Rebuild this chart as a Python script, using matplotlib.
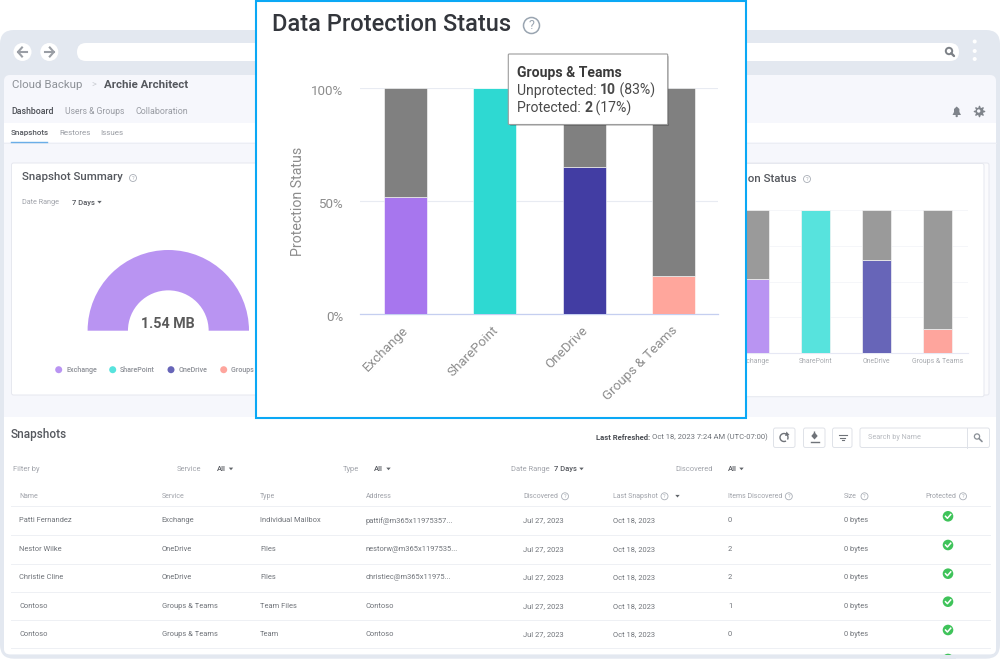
import matplotlib
matplotlib.use('Agg')
from matplotlib import pyplot as plt
from matplotlib.patches import FancyBboxPatch, Rectangle, Circle, Polygon, Arc
from matplotlib.transforms import ScaledTranslation

plt.rcParams['font.family'] = ['Roboto', 'DejaVu Sans']

W, H = 1000, 659

# Dados
services = ['Exchange', 'SharePoint', 'OneDrive', 'Groups & Teams']
protected = [52, 100, 65, 17]
unprotected = [48, 0, 35, 83]
yticks = [0, 50, 100]
side_grid = [25, 50, 75, 100]

donut_values = [1.54, 1.54]

legend_names = ['Exchange', 'SharePoint', 'OneDrive', 'Groups & Teams']

main_colors = ['#a776ee', '#2ed9d2', '#423da3', '#ffa69c']
side_colors = ['#b994f2', '#57e3dd', '#6765b8', '#fea59d']

headers = ['Name', 'Service', 'Type', 'Address', 'Discovered', 'Last Snapshot',
           'Items Discovered', 'Size', 'Protected']
col_names = ['Patti Fernandez', 'Nestor Wilke', 'Christie Cline', 'Contoso', 'Contoso']
col_service = ['Exchange', 'OneDrive', 'OneDrive', 'Groups & Teams', 'Groups & Teams']
col_type = ['Individual Mailbox', 'Files', 'Files', 'Team Files', 'Team']
col_address = ['pattif@m365x11975357...', 'nestorw@m365x1197535...',
               'christiec@m365x11975...', 'Contoso', 'Contoso']
col_discovered = ['Jul 27, 2023'] * 5
col_snapshot = ['Oct 18, 2023'] * 5
col_items = ['0', '2', '2', '1', '0']
col_size = ['0 bytes'] * 5

fig = plt.figure(figsize=(W / 100, H / 100), dpi=100, facecolor='white')


def px_axes(z):
    a = fig.add_axes([0, 0, 1, 1], zorder=z)
    a.set_xlim(0, W)
    a.set_ylim(H, 0)
    a.axis('off')
    a.patch.set_alpha(0)
    return a


def rect_axes(x0, y0, x1, y1, z):
    # axes posicionado em pixels da imagem
    return fig.add_axes([x0 / W, 1 - y1 / H, (x1 - x0) / W, (y1 - y0) / H], zorder=z)


def txt(a, x, y, s, size, color='#6f7379', **kw):
    kw.setdefault('va', 'center')
    return a.text(x, y + 1, s, fontsize=size * 0.72, color=color, **kw)


def box(a, x0, y0, x1, y1, r=0, fc='white', ec='none', lw=0.0, z=1):
    if r == 0:
        p = Rectangle((x0, y0), x1 - x0, y1 - y0, fc=fc, ec=ec, lw=lw, zorder=z)
    else:
        p = FancyBboxPatch((x0, y0), x1 - x0, y1 - y0,
                           boxstyle='round,pad=0,rounding_size=%s' % r,
                           fc=fc, ec=ec, lw=lw, zorder=z)
    a.add_patch(p)
    return p


def help_icon(a, x, y, r=3.5, color='#a9aeb6', fs=5.5, lw=0.6):
    a.add_patch(Circle((x, y), r, fc='white', ec=color, lw=lw, zorder=5))
    txt(a, x, y - 0.8, '?', fs, color, ha='center', zorder=6)


def caret(a, x, y, s=2.2, color='#5f6368'):
    a.add_patch(Polygon([(x - s, y - s / 2), (x + s, y - s / 2), (x, y + s / 2 + 0.4)],
                        fc=color, ec='none', zorder=5))


def runs(a, x, y, parts, size, color, weight_color=None):
    # escreve pedaços em sequência (normal e negrito)
    r = fig.canvas.get_renderer()
    inv = a.transData.inverted()
    for s, w in parts:
        c = weight_color if (w == 'bold' and weight_color) else color
        t = txt(a, x, y, s, size, c, weight=w, zorder=8)
        bb = t.get_window_extent(r)
        x = inv.transform((bb.x1, bb.y0))[0]


def magnifier(a, x, y, r=3, color='#8a8f96', lw=1.2):
    a.add_patch(Circle((x - 1, y - 1), r, fc='none', ec=color, lw=lw, zorder=6))
    a.plot([x + 1.2, x + 4], [y + 1.2, y + 4], color=color, lw=lw + 0.3, zorder=6,
           solid_capstyle='round')


# ---- Fundo: janela do navegador
bg = px_axes(0)
box(bg, 0, 30, 1000, 658.7, r=14, fc='#e3e8f0')
box(bg, 4, 75, 996, 654.3, r=6, fc='#f6f7fc')
box(bg, 4, 123, 996, 142, fc='white')
bg.plot([4, 996], [142.5, 142.5], color='#eceef4', lw=0.7, zorder=2)

# barra de endereço
box(bg, 77, 43, 959, 61, r=9, fc='white')
for cx in (22.5, 49.3):
    bg.add_patch(Circle((cx, 52), 9, fc='white', ec='none', zorder=2))
for cx, d in ((22.5, -1), (49.3, 1)):
    bg.plot([cx - 4.5 * d, cx + 4.5 * d], [52, 52], color='#9a9ea5', lw=1.5, zorder=3)
    bg.plot([cx + 0.5 * d, cx + 4.5 * d, cx + 0.5 * d], [47.5, 52, 56.5], color='#9a9ea5', lw=1.5, zorder=3)
magnifier(bg, 950, 52, r=3.2, color='#7d8187', lw=1.4)
for yy in (41.5, 51, 59):
    bg.add_patch(Circle((974.7, yy), 2, fc='white', ec='none', zorder=3))

# navegação
txt(bg, 11.5, 84.5, 'Cloud Backup', 11.5, '#8d9197')
txt(bg, 91.5, 84.5, '>', 9, '#c9ccd2')
txt(bg, 104, 84.5, 'Archie Architect', 11.5, '#55585e', weight='bold')
txt(bg, 11.5, 110.5, 'Dashboard', 8.8, '#4c4f55', weight='medium')
txt(bg, 65, 110.5, 'Users & Groups', 8.7, '#999ca3')
txt(bg, 136, 110.5, 'Collaboration', 8.9, '#999ca3')
txt(bg, 11, 132, 'Snapshots', 8.0, '#55585e', weight='medium')
txt(bg, 59, 132, 'Restores', 8.0, '#999ca3')
txt(bg, 100, 132, 'Issues', 8.0, '#999ca3')
bg.plot([11, 47], [141.5, 141.5], color='#6aaee8', lw=1, zorder=3)

# sino e engrenagem
bg.add_patch(Polygon([(952.5, 115), (954, 112), (954, 109), (956.7, 106.5), (959.4, 109),
                      (959.4, 112), (961, 115)], fc='#7f848b', ec='none', zorder=3))
bg.add_patch(Circle((956.7, 116), 1.2, fc='#7f848b', ec='none', zorder=3))
bg.scatter([978.7], [111], marker=(8, 1, 0), s=55, color='#7f848b', zorder=3)
bg.add_patch(Circle((978.7, 111), 1.7, fc='#f6f7fc', ec='none', zorder=4))

# cartão do resumo
box(bg, 11.5, 163, 300, 395, r=2, fc='white', ec='#e6e8ef', lw=0.7, z=2)
txt(bg, 21.5, 176.5, 'Snapshot Summary', 11.5, '#55585e', weight='medium', zorder=3)
help_icon(bg, 133, 178)
txt(bg, 21.5, 201.5, 'Date Range', 7.3, '#a0a3aa', zorder=3)
txt(bg, 72, 201.5, '7 Days', 7.6, '#55585e', weight='medium', zorder=3)
caret(bg, 99.5, 202)

legend_x = [58.7, 112.7, 171, 223.7]
for lx, name, c in zip(legend_x, legend_names, side_colors):
    bg.add_patch(Circle((lx, 369.7), 3.5, fc=c, ec='none', zorder=3))
    txt(bg, lx + 7.5, 369.5, name, 7.2, '#8e9198', weight='medium', zorder=3)
txt(bg, 168.3, 323.5, '1.54 MB', 14.3, '#5a5a5a', ha='center', weight='bold', zorder=3)

# cartão lateral
box(bg, 700, 163, 989, 395, r=2, fc='#fbfbfd', ec='#e6e8ef', lw=0.7, z=2)
box(bg, 700, 163.5, 984, 396.7, r=2, fc='white', ec='#e6e8ef', lw=0.7, z=2)
txt(bg, 797, 177.5, 'Data Protection Status', 11.5, '#55585e', ha='right', weight='medium', zorder=3)
help_icon(bg, 807, 179)

# tabela
box(bg, 4, 417, 996, 654.3, r=6, fc='white', z=2)
box(bg, 4, 417, 996, 440, fc='white', z=2)
txt(bg, 11, 433.5, 'Snapshots', 11.7, '#55585e', weight='medium', zorder=3)
runs(bg, 596, 436.5, [('Last Refreshed: ', 'bold'), ('Oct 18, 2023 7:24 AM (UTC-07:00)', 'normal')],
     7.6, '#6f7379', weight_color='#4c4f55')

for x0, x1 in ((773.5, 795), (803.5, 825), (832.5, 852)):
    box(bg, x0, 428, x1, 447.5, r=2, fc='white', ec='#dfe2e8', lw=0.7, z=3)
bg.add_patch(Arc((784, 437.5), 8, 8, theta1=-300, theta2=30, color='#6f7379', lw=1, zorder=5))
bg.add_patch(Polygon([(786.5, 431.5), (789.5, 435), (785, 436)], fc='#6f7379', ec='none', zorder=5))
bg.add_patch(Polygon([(811.3, 436), (813.8, 433), (813.8, 431.5), (815.2, 431.5), (815.2, 433),
                      (817.7, 436), (814.5, 439.5)], fc='#6f7379', ec='none', zorder=5))
bg.plot([810.5, 818.5], [441.5, 441.5], color='#6f7379', lw=1, zorder=5)
for half, yy in ((4, 435), (2.7, 437.7), (1, 440.3)):
    bg.plot([842.5 - half, 842.5 + half], [yy, yy], color='#6f7379', lw=0.8, zorder=5)
box(bg, 860, 428, 989.5, 447.5, r=2, fc='white', ec='#dfe2e8', lw=0.7, z=3)
bg.plot([966.5, 966.5], [428, 447.5], color='#dfe2e8', lw=0.7, zorder=4)
txt(bg, 868, 436.5, 'Search by Name', 7.3, '#b6b9bf', zorder=5)
magnifier(bg, 978, 437.5, r=2.6, color='#8a8f96', lw=0.9)

fy = 468.2
txt(bg, 13, fy, 'Filter by', 7.5, '#a0a3aa', zorder=3)
txt(bg, 177, fy, 'Service', 7.5, '#a0a3aa', zorder=3)
txt(bg, 216.5, fy, 'All', 7.6, '#55585e', weight='medium', zorder=3)
caret(bg, 231, fy + 0.5)
txt(bg, 343, fy, 'Type', 7.5, '#a0a3aa', zorder=3)
txt(bg, 374, fy, 'All', 7.6, '#55585e', weight='medium', zorder=3)
caret(bg, 388.5, fy + 0.5)
txt(bg, 511, fy, 'Date Range', 7.5, '#a0a3aa', zorder=3)
txt(bg, 554, fy, '7 Days', 7.6, '#55585e', weight='medium', zorder=3)
caret(bg, 581.5, fy + 0.5)
txt(bg, 675, fy, 'Discovered', 7.5, '#a0a3aa', zorder=3)
txt(bg, 727.5, fy, 'All', 7.6, '#55585e', weight='medium', zorder=3)
caret(bg, 741.5, fy + 0.5)

col_x = [19, 161.5, 260, 366, 523.3, 612.7, 728, 844, 925.7]
help_x = [None, None, None, None, 565, 664.5, 788.8, 864.5, 963]
for cx, name, hx in zip(col_x, headers, help_x):
    txt(bg, cx, 495.3, name, 7.0, '#a0a3aa', zorder=3)
    if hx:
        help_icon(bg, hx, 496.3)
caret(bg, 677.5, 496)

row_y = [519.8, 548.2, 576.5, 605.2, 633.5]
columns = [col_names, col_service, col_type, col_address, col_discovered, col_snapshot, col_items, col_size]
for cx, vals in zip(col_x, columns):
    for yy, v in zip(row_y, vals):
        txt(bg, cx, yy, v, 7.5, '#6f7379', zorder=3)
for yy in (506.3, 534.5, 563.5, 591.5, 620, 648.3):
    bg.plot([11, 989.5], [yy, yy], color='#eef0f4', lw=0.7, zorder=3)

check_y = [516.3, 545, 573.7, 601.7, 630, 659]
for yy in check_y:
    bg.add_patch(Circle((948, yy), 5.3, fc='#3fc35a', ec='none', zorder=3))
    bg.plot([945.5, 947.4, 950.7], [yy, yy + 2, yy - 1.8], color='white', lw=1.1, zorder=4)
box(bg, 940, 655, 956, 658.7, fc='#e3e8f0', z=5)
box(bg, 940, 658.7, 956, 660, fc='white', z=5)

# Meia rosca
ax_donut = rect_axes(168.3 - 80.7, 330.7 - 80.7, 168.3 + 80.7, 330.7 + 80.7, 1)
ax_donut.pie(donut_values, colors=[side_colors[0], 'none'], startangle=0, radius=1,
             wedgeprops={'width': 0.5, 'linewidth': 0})
ax_donut.set_xlim(-1, 1)
ax_donut.set_ylim(-1, 1)
ax_donut.patch.set_alpha(0)

# Gráfico lateral (atrás do painel)
ax_side = rect_axes(724, 210, 968, 353.3, 1)
ax_side.patch.set_alpha(0)
ax_side.set_xlim(-0.5, 3.5)
ax_side.set_ylim(0, 100)
ax_side.bar(services, protected, 0.475, color=side_colors, edgecolor='#f4f4f4', linewidth=0.5, zorder=3)
ax_side.bar(services, unprotected, 0.475, bottom=protected, color='#9a9a9a', edgecolor='#f4f4f4', linewidth=0.5, zorder=3)
ax_side.set_yticks(side_grid)
ax_side.set_yticklabels([])
ax_side.tick_params(length=0)
ax_side.tick_params(axis='x', pad=3.5, labelsize=6.9 * 0.72, labelcolor='#a8abb0')
ax_side.grid(axis='y', color='#f5f6f9', lw=0.7, zorder=0)
for s in ('top', 'left', 'right'):
    ax_side.spines[s].set_visible(False)
ax_side.spines['bottom'].set_color('#e6e8f4')

# Painel em destaque
top = px_axes(2)
box(top, 256, 1, 746, 417.5, fc='white', ec='#0aa8f5', lw=1.5)
txt(top, 272, 23.5, 'Data Protection Status', 23.6, '#33363c', weight='medium', zorder=3)
help_icon(top, 531.5, 25.5, r=8, color='#9aa5b1', fs=12.5, lw=1.1)

ax = rect_axes(360.4, 88.3, 718.4, 314.3, 3)
ax.patch.set_alpha(0)
ax.set_xlim(-0.5, 3.5)
ax.set_ylim(0, 100)
ax.bar(services, protected, 0.48, color=main_colors, edgecolor='white', linewidth=0.4, zorder=3)
ax.bar(services, unprotected, 0.48, bottom=protected, color='#808080', edgecolor='white', linewidth=0.4, zorder=3)
ax.set_yticks(yticks)
ax.set_yticklabels(['%d%%' % v for v in yticks], fontsize=13.4 * 0.72, color='#8c8c8c')
ax.set_ylabel('Protection Status', fontsize=14.1 * 0.72, color='#8c8c8c', labelpad=4)
ax.yaxis.label.set_y(0.5)
ax.tick_params(length=0)
ax.tick_params(axis='y', pad=12.5)
ax.tick_params(axis='x', pad=7)
for lab in ax.get_yticklabels():
    lab.set_transform(lab.get_transform() + ScaledTranslation(0, -1.3 / 100, fig.dpi_scale_trans))
for lab in ax.get_xticklabels():
    lab.set(rotation=45, ha='right', rotation_mode='anchor', fontsize=13.4 * 0.72, color='#8c8c8c')
    lab.set_transform(lab.get_transform() + ScaledTranslation(-3 / 100, 0, fig.dpi_scale_trans))
ax.grid(axis='y', color='#e8ebf2', lw=0.8, zorder=0)
for s in ('top', 'left', 'right'):
    ax.spines[s].set_visible(False)
ax.spines['bottom'].set_color('#c5cff0')
ax.spines['bottom'].set_linewidth(0.9)

# Tooltip
tip = px_axes(4)
box(tip, 510, 56, 669, 126, r=1, fc='#00000030', z=1)
box(tip, 508.3, 54, 667.7, 124.5, r=1, fc='white', ec='#9c9c9c', lw=0.8, z=2)
txt(tip, 517, 71.5, services[3], 14, '#3a3a3a', weight='bold', zorder=8)
runs(tip, 517, 89.5, [('Unprotected: ', 'normal'), ('10', 'bold'), (' (83%)', 'normal')], 14, '#4a4a4a')
runs(tip, 517, 107.3, [('Protected: ', 'normal'), ('2', 'bold'), (' (17%)', 'normal')], 14, '#4a4a4a')

fig.savefig('out.png', dpi=100)
